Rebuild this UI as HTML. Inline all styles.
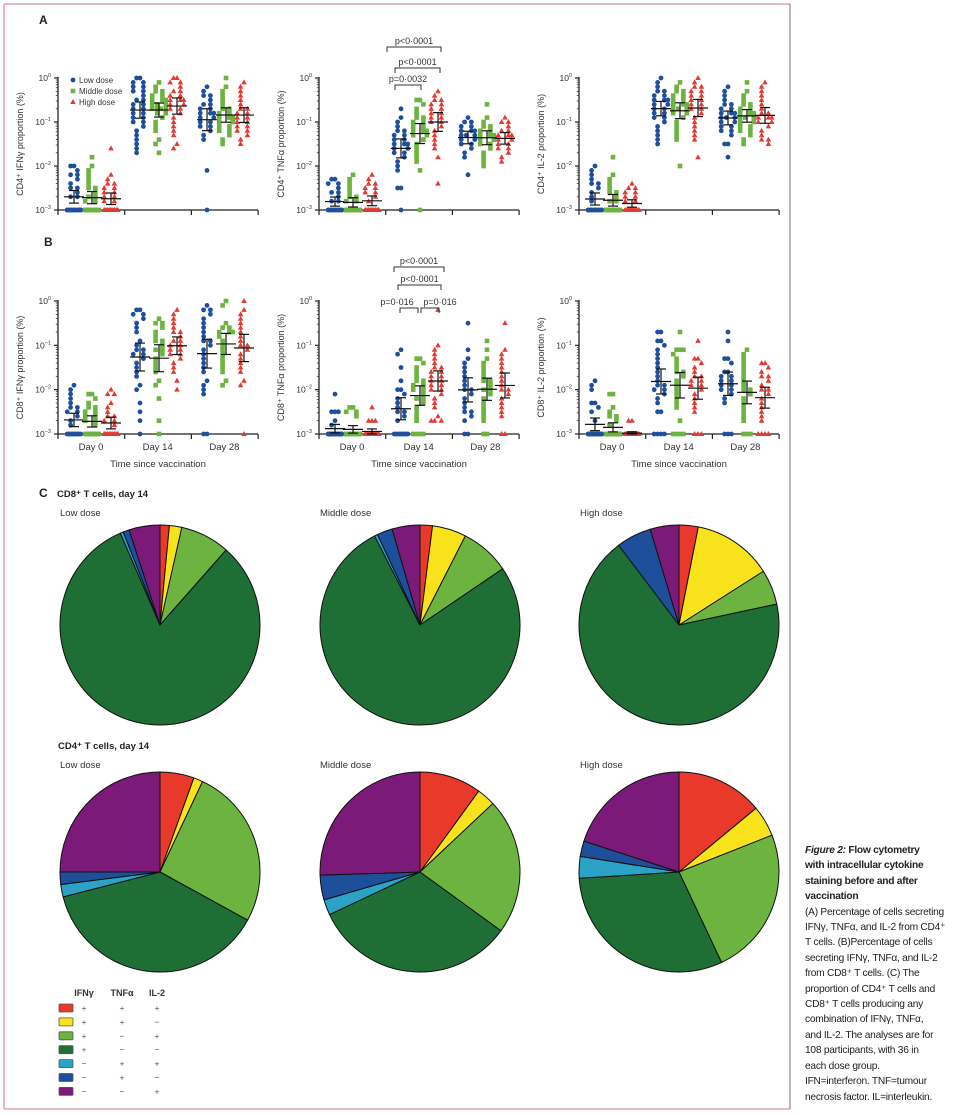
<!DOCTYPE html>
<html><head><meta charset="utf-8">
<style>
html,body{margin:0;padding:0;background:#fff;}
svg{display:block;font-family:"Liberation Sans",sans-serif;}
.cap{position:absolute;left:805px;top:843px;font-family:"Liberation Sans",sans-serif;font-size:10.2px;line-height:15.4px;color:#222;white-space:nowrap;letter-spacing:-0.25px;}
</style></head>
<body>
<div style="position:relative;width:964px;height:1116px;overflow:hidden;">
<svg id="fig" width="964" height="1116"></svg>
<div class="cap"><b><i>Figure 2:</i> Flow cytometry<br>with intracellular cytokine<br>staining before and after<br>vaccination</b><br>(A) Percentage of cells secreting<br>IFNγ, TNFα, and IL-2 from CD4⁺<br>T cells. (B)Percentage of cells<br>secreting IFNγ, TNFα, and IL-2<br>from CD8⁺ T cells. (C) The<br>proportion of CD4⁺ T cells and<br>CD8⁺ T cells producing any<br>combination of IFNγ, TNFα,<br>and IL-2. The analyses are for<br>108 participants, with 36 in<br>each dose group.<br>IFN=interferon. TNF=tumour<br>necrosis factor. IL=interleukin.</div>
</div>
<script>
// ---- scatter data: log10 exponents x10, groups: D0 low/mid/high, D14 low/mid/high, D28 low/mid/high
const cd4IfngData = ["-30x14 -27 -27 -26 -25 -25 -24 -23 -22 -22 -21 -20 -20","-30x14 -28 -28 -27 -27 -26 -25 -25 -24 -23 -22 -21 -20 -18","-30x14 -28 -28 -27 -27 -26 -26 -25 -25 -24 -24 -23 -22 -16","0 0 -1 -1 -2 -2 -3 -3 -4 -5 -5 -6 -6 -7 -7 -8 -8 -9 -9 -10 -10 -11 -12 -13 -14 -15 -16 -17","-1 -2 -3 -3 -4 -4 -5 -5 -5 -6 -6 -6 -7 -7 -7 -7 -8 -8 -9 -10 -11 -12 -14 -15 -17","0 0 -1 -1 -2 -3 -3 -4 -4 -5 -5 -5 -6 -6 -7 -7 -8 -9 -10 -11 -12 -13 -15 -16","-2 -3 -4 -4 -5 -6 -6 -7 -7 -8 -8 -8 -9 -9 -10 -10 -11 -11 -12 -13 -14 -21 -30","0 -2 -3 -4 -5 -6 -7 -7 -8 -8 -9 -9 -9 -10 -10 -11 -11 -12 -12 -13 -14 -15","-1 -2 -3 -4 -5 -6 -7 -7 -8 -8 -9 -9 -10 -10 -11 -11 -12 -12 -13 -14 -15"];
const cd4TnfData = ["-30x14 -28 -28 -27 -26 -26 -25 -24 -24 -23 -23","-30x14 -28 -28 -27 -27 -26 -25 -24 -23 -22","-30x14 -28 -27 -26 -26 -25 -25 -24 -24 -23 -22","-7 -9 -10 -11 -12 -12 -13 -13 -14 -14 -15 -15 -15 -16 -16 -17 -17 -18 -19 -20 -21 -25 -25 -30","-5 -5 -6 -7 -8 -9 -9 -10 -10 -11 -11 -12 -12 -12 -13 -13 -14 -15 -16 -17 -18 -19 -21 -30","-3 -4 -5 -5 -6 -6 -7 -7 -8 -8 -9 -9 -10 -10 -11 -12 -13 -14 -15 -16 -18 -24","-9 -10 -10 -11 -11 -12 -12 -12 -13 -13 -13 -14 -14 -15 -15 -16 -17 -18 -22","-6 -9 -10 -11 -11 -12 -12 -13 -13 -13 -14 -14 -15 -15 -16 -17 -18 -19 -20","-9 -10 -10 -11 -12 -12 -13 -13 -13 -14 -14 -15 -15 -16 -16 -17 -18 -19"];
const cd4Il2Data = ["-30x14 -28 -27 -26 -25 -24 -24 -23 -22 -21 -20","-30x14 -28 -28 -27 -26 -26 -25 -24 -23 -22 -18","-30x14 -28 -28 -27 -27 -26 -26 -25 -25 -24","0 -1 -2 -3 -3 -4 -4 -5 -5 -5 -6 -6 -7 -7 -8 -8 -9 -9 -10 -11 -12 -13 -14 -15","-1 -2 -3 -3 -4 -4 -5 -5 -6 -6 -6 -7 -7 -7 -8 -8 -9 -10 -11 -12 -13 -14 -20","0 -1 -2 -2 -3 -3 -4 -4 -5 -5 -6 -6 -7 -7 -8 -9 -10 -11 -12 -13 -14 -18","-2 -3 -4 -5 -6 -6 -7 -7 -8 -8 -8 -9 -9 -9 -10 -10 -11 -11 -12 -12 -13 -15 -15 -18","-1 -3 -4 -5 -6 -6 -7 -7 -8 -8 -8 -9 -9 -9 -10 -10 -11 -11 -12 -12 -13 -14 -15","-1 -2 -3 -4 -5 -6 -7 -8 -8 -9 -9 -9 -10 -10 -11 -12 -13 -14 -14 -15"];
const cd8IfngData = ["-30x12 -28 -27 -26 -25 -25 -24 -24 -23 -22 -21 -20 -19","-30x12 -28 -27 -27 -26 -26 -25 -25 -24 -24 -23 -22 -21 -21","-30x14 -28 -27 -27 -26 -26 -25 -24 -23 -21 -21 -20","-2 -2 -3 -3 -4 -5 -6 -7 -9 -10 -11 -11 -12 -12 -13 -14 -15 -16 -17 -19 -20 -23 -25 -27 -30","-4 -5 -5 -6 -7 -8 -9 -9 -10 -11 -11 -12 -13 -14 -15 -16 -18 -19 -22 -27 -30","-2 -3 -4 -5 -6 -7 -7 -8 -9 -9 -10 -10 -11 -11 -12 -12 -13 -14 -15 -16 -18 -20","-1 -2 -2 -3 -4 -5 -6 -7 -8 -9 -9 -10 -11 -12 -13 -14 -15 -16 -18 -19 -20 -21 -30 -30","0 -1 -5 -6 -6 -7 -7 -7 -8 -9 -10 -11 -12 -13 -14 -15 -16 -18 -19","0 -2 -3 -4 -5 -6 -7 -8 -9 -10 -10 -11 -12 -13 -14 -15 -16 -18 -19 -30"];
const cd8TnfData = ["-30x18 -28 -27 -25 -25 -25 -21","-30x20 -26 -25 -25 -24 -24","-30x22 -27 -27 -27 -24","-11 -12 -15 -18 -20 -20 -21 -22 -23 -24 -25 -25 -26 -27 -30x9","-13 -13 -14 -15 -16 -17 -18 -18 -19 -19 -20 -20 -21 -22 -22 -23 -24 -25 -26 -27 -30x4","-2 -10 -11 -12 -13 -14 -15 -15 -16 -16 -17 -17 -18 -18 -19 -19 -20 -20 -21 -22 -23 -24 -26 -27 -27 -27","-5 -11 -13 -14 -15 -16 -17 -18 -19 -20 -20 -21 -22 -23 -24 -25 -25 -26 -27 -30 -30","-9 -11 -13 -14 -15 -16 -17 -18 -18 -19 -20 -20 -21 -22 -23 -24 -25 -26 -27 -30 -30","-5 -11 -12 -13 -14 -15 -16 -17 -18 -19 -20 -20 -21 -22 -23 -24 -25 -26 -30 -30"];
const cd8Il2Data = ["-30x20 -27 -25 -24 -23 -23 -20 -19 -18","-30x20 -28 -27 -26 -26 -25 -24 -21 -21","-30x26 -27 -27","-7 -7 -9 -9 -10 -11 -12 -13 -14 -15 -16 -17 -18 -19 -19 -20 -20 -21 -22 -23 -25 -25 -30x4","-7 -11 -11 -11 -12 -13 -14 -15 -16 -16 -17 -18 -19 -20 -21 -22 -23 -24 -27 -30x4","-9 -13 -13 -14 -15 -16 -17 -17 -18 -18 -19 -19 -20 -21 -22 -23 -24 -25 -30x3","-7 -9 -13 -13 -14 -16 -16 -17 -17 -18 -18 -19 -19 -20 -20 -21 -22 -23 -30x3","-11 -12 -13 -14 -15 -16 -17 -18 -19 -20 -20 -21 -22 -23 -24 -25 -26 -27 -30x3","-14 -14 -15 -16 -17 -17 -18 -19 -20 -20 -21 -22 -23 -24 -25 -26 -27 -30x4"];
const yTickExps = [0,-1,-2,-3];
const dayLabels = ["Day 0","Day 14","Day 28"];
const doseNames = ["Low dose","Middle dose","High dose"];
// ---- pie data (% of cells): IFNγ+TNFα+IL2+, IFNγ+TNFα+, IFNγ+IL2+, IFNγ+, TNFα+IL2+, TNFα+, IL2+
const cd8LowPie  = [1.5, 2, 8, 82, 0.5, 1, 5];
const cd8MidPie  = [2, 5.5, 8, 77, 0.5, 2.5, 4.5];
const cd8HighPie = [3, 12.5, 5.5, 66, 0, 5.5, 4.5];
const cd4LowPie  = [5.5, 1.5, 26, 38, 2, 2, 25];
const cd4MidPie  = [10, 3, 22, 33, 2.5, 4, 25.5];
const cd4HighPie = [14, 5, 24, 31, 3.5, 2.5, 20];
const legendSigns = [["+","+","+"],["+","+","−"],["+","−","+"],["+","−","−"],["−","+","+"],["−","+","−"],["−","−","+"]];

const NS="http://www.w3.org/2000/svg";
const svg=document.getElementById('fig');
function el(tag,attrs,parent){const e=document.createElementNS(NS,tag);for(const k in attrs)e.setAttribute(k,attrs[k]);(parent||svg).appendChild(e);return e;}
function txt(x,y,s,attrs,parent){const t=el('text',Object.assign({x:x,y:y},attrs||{}),parent);t.textContent=s;return t;}
function parse(str){const out=[];str.split(/\s+/).forEach(tok=>{if(!tok)return;const m=tok.split('x');const v=parseFloat(m[0])/10;const n=m[1]?parseInt(m[1]):1;for(let i=0;i<n;i++)out.push(v);});return out;}

const doseColors=["#1f4f9c","#6cb33f","#e23b33"];
const sliceColors=["#e8392b","#f7e21b","#6cb33f","#1f6e35","#2aa3c6","#1d4f9a","#7b1a78"];
const groupOffsets=[16,34,53,82,101,119,149,168,186];
const swarmPattern=[0,-3.4,3.4,-6.8,6.8,-1.7,1.7,-5.1,5.1];

const frame=el('g',{});


el('line',{x1:4,y1:4,x2:790,y2:4,stroke:'#d9a3ae','stroke-width':1.5},frame);
el('line',{x1:4,y1:4,x2:4,y2:1109,stroke:'#d9a3ae','stroke-width':1.5},frame);
el('line',{x1:4,y1:1109,x2:790,y2:1109,stroke:'#d9a3ae','stroke-width':1.5},frame);
el('line',{x1:790,y1:4,x2:790,y2:1109,stroke:'#888','stroke-width':1.2},frame);

function marker(g,kind,x,y,color){
  let m;
  if(kind===0) m=el('circle',{cx:x,cy:y,r:2.4,fill:color},g);
  else if(kind===1) m=el('rect',{x:x-2.3,y:y-2.3,width:4.6,height:4.6,fill:color},g);
  else m=el('path',{d:`M${x},${y-3} L${x+2.8},${y+2} L${x-2.8},${y+2}Z`,fill:color},g);
  return m;
}

function scatter(name,ax,top,bot,data,ytitle,showX,legend){
  const g=el('g',{});
  
  
  const H=bot-top;
  const yS=e=>top+(0-e)/3*H;
  const xEnd=ax+200;
  el('line',{x1:ax,y1:top-1,x2:ax,y2:bot,stroke:'#222','stroke-width':1.3},g);
  el('line',{x1:ax,y1:bot,x2:xEnd,y2:bot,stroke:'#222','stroke-width':1.3},g);
  [0,1,2,3].forEach(i=>{const x=ax+i*66.7;el('line',{x1:x,y1:bot,x2:x,y2:bot+5,stroke:'#222','stroke-width':1.2},g);});
  yTickExps.forEach(e=>{
    const y=yS(e);
    el('line',{x1:ax-4,y1:y,x2:ax,y2:y,stroke:'#222','stroke-width':1.2},g);
    const t=txt(ax-7,y+3,'10',{'font-size':8.5,'text-anchor':'end',fill:'#333'},g);
    const ts=el('tspan',{dy:-4,'font-size':5.5},t);ts.textContent=String(e).replace('-','−');
    
    
    if(e>-3){for(let k=2;k<10;k++){const yy=yS(e-1+Math.log10(k));el('line',{x1:ax-2.2,y1:yy,x2:ax,y2:yy,stroke:'#333','stroke-width':0.8},g);}}
  });
  const yt=txt(0,0,ytitle,{'font-size':9,'text-anchor':'middle',fill:'#333',transform:`translate(${ax-35},${(top+bot)/2}) rotate(-90)`},g);
  
  
  if(showX){
    dayLabels.forEach((d,i)=>{const t=txt(ax+33+i*66.7,bot+16,d,{'font-size':9.5,'text-anchor':'middle',fill:'#333'},g);
      
      });
    const xt=txt(ax+100,bot+33,'Time since vaccination',{'font-size':9.5,'text-anchor':'middle',fill:'#333'},g);
    
    
  }
  data.forEach((str,gi)=>{
    const vals=parse(str).sort((a,b)=>b-a);
    const cx=ax+groupOffsets[gi];
    const kind=gi%3;const col=doseColors[kind];
    const placed=[];
    const gg=el('g',{},g);
    
    
    vals.forEach(v=>{
      const y=yS(v);
      const k=placed.filter(p=>Math.abs(p-y)<5).length;
      placed.push(y);
      const off=swarmPattern[k%swarmPattern.length];
      const m=marker(gg,kind,cx+off,y,col);
      
      
    });
    const n=vals.length;const mean=vals.reduce((a,b)=>a+b,0)/n;
    const sd=Math.sqrt(vals.reduce((a,b)=>a+(b-mean)*(b-mean),0)/(n-1));
    const ci=1.96*sd/Math.sqrt(n);
    const ym=yS(mean),y1=yS(Math.min(0,mean+ci)),y2=yS(Math.max(-3,mean-ci));
    const eb=el('g',{stroke:'#111','stroke-width':1.2},gg);
    
    
    el('line',{x1:cx-10,y1:ym,x2:cx+10,y2:ym},eb);
    el('line',{x1:cx,y1:y1,x2:cx,y2:y2},eb);
    el('line',{x1:cx-5,y1:y1,x2:cx+5,y2:y1},eb);
    el('line',{x1:cx-5,y1:y2,x2:cx+5,y2:y2},eb);
  });
  if(legend){
    const lg=el('g',{},g);
    
    
    doseNames.forEach((d,i)=>{const y=top+2+i*11;marker(lg,i,ax+15,y,doseColors[i]);
      const t=txt(ax+21,y+3,d,{'font-size':8,fill:'#333'},lg);
      
      });
  }
  return g;
}

function bracket(x1,x2,y,label,lx){
  const g=el('g',{});
  
  
  el('path',{d:`M${x1},${y+5} V${y} H${x2} V${y+5}`,fill:'none',stroke:'#333','stroke-width':1},g);
  txt(lx!==undefined?lx:(x1+x2)/2,y-3,label,{'font-size':9,'text-anchor':'middle',fill:'#333'},g);
}

const lab=(s,x,y,sz,bold,name)=>{const t=txt(x,y,s,{'font-size':sz,'font-weight':bold?'bold':'normal',fill:'#222'});return t;};
lab('A',39,24,12,true,'panel-a-label');
lab('B',44,246,12,true,'panel-b-label');
lab('C',39,497,12,true,'panel-c-label');

scatter('cd4-ifng-chart',58,78,210,cd4IfngData,'CD4⁺ IFNγ proportion (%)',false,true);
scatter('cd4-tnfa-chart',319,78,210,cd4TnfData,'CD4⁺ TNFα proportion (%)',false,false);
scatter('cd4-il2-chart',579,78,210,cd4Il2Data,'CD4⁺ IL-2 proportion (%)',false,false);
scatter('cd8-ifng-chart',58,301,434,cd8IfngData,'CD8⁺ IFNγ proportion (%)',true,false);
scatter('cd8-tnfa-chart',319,301,434,cd8TnfData,'CD8⁺ TNFα proportion (%)',true,false);
scatter('cd8-il2-chart',579,301,434,cd8Il2Data,'CD8⁺ IL-2 proportion (%)',true,false);

bracket(387,441,47,'p<0·0001');
bracket(395,440,68,'p<0·0001');
bracket(395,421,85,'p=0·0032',408);
bracket(394,444,267,'p<0·0001');
bracket(398,441,285,'p<0·0001');
bracket(400,418,308,'p=0·016',397);
bracket(421,439,308,'p=0·016',440);

function pie(name,cx,cy,r,vals,title,tx,ty){
  const g=el('g',{});
  
  
  const t=txt(tx,ty,title,{'font-size':9.5,fill:'#333'},g);
  
  
  const tot=vals.reduce((a,b)=>a+b,0);
  let a0=0;
  vals.forEach((v,i)=>{
    if(v<=0)return;
    const a1=a0+v/tot*2*Math.PI;
    const p=(a)=>[cx+r*Math.sin(a),cy-r*Math.cos(a)];
    const [x0,y0]=p(a0),[x1,y1]=p(a1);
    const s=el('path',{d:`M${cx},${cy} L${x0},${y0} A${r},${r} 0 ${a1-a0>Math.PI?1:0} 1 ${x1},${y1} Z`,fill:sliceColors[i],stroke:'#111','stroke-width':1},g);
    
    
    a0=a1;
  });
}
lab('CD8⁺ T cells, day 14',57,497,9.5,true,'cd8-section-title');
pie('cd8-low-pie',160,625,100,cd8LowPie,'Low dose',60,516);
pie('cd8-middle-pie',420,625,100,cd8MidPie,'Middle dose',320,516);
pie('cd8-high-pie',679,625,100,cd8HighPie,'High dose',580,516);
lab('CD4⁺ T cells, day 14',58,749,9.5,true,'cd4-section-title');
pie('cd4-low-pie',160,872,100,cd4LowPie,'Low dose',60,768);
pie('cd4-middle-pie',420,872,100,cd4MidPie,'Middle dose',320,768);
pie('cd4-high-pie',679,872,100,cd4HighPie,'High dose',580,768);

const lgd=el('g',{});


["IFNγ","TNFα","IL-2"].forEach((h,i)=>{const t=txt([84,122,157][i],996,h,{'font-size':9,'font-weight':'bold','text-anchor':'middle',fill:'#333'},lgd);
  
  });
legendSigns.forEach((row,ri)=>{
  const y=1008+ri*13.9;
  const r=el('rect',{x:59,y:y-4,width:14,height:8,fill:sliceColors[ri],stroke:'#555','stroke-width':0.8,rx:1},lgd);
  
  
  row.forEach((s,ci)=>{txt([84,122,157][ci],y+3,s,{'font-size':8.5,'text-anchor':'middle',fill:'#555'},lgd);});
});
</script>
</body></html>
